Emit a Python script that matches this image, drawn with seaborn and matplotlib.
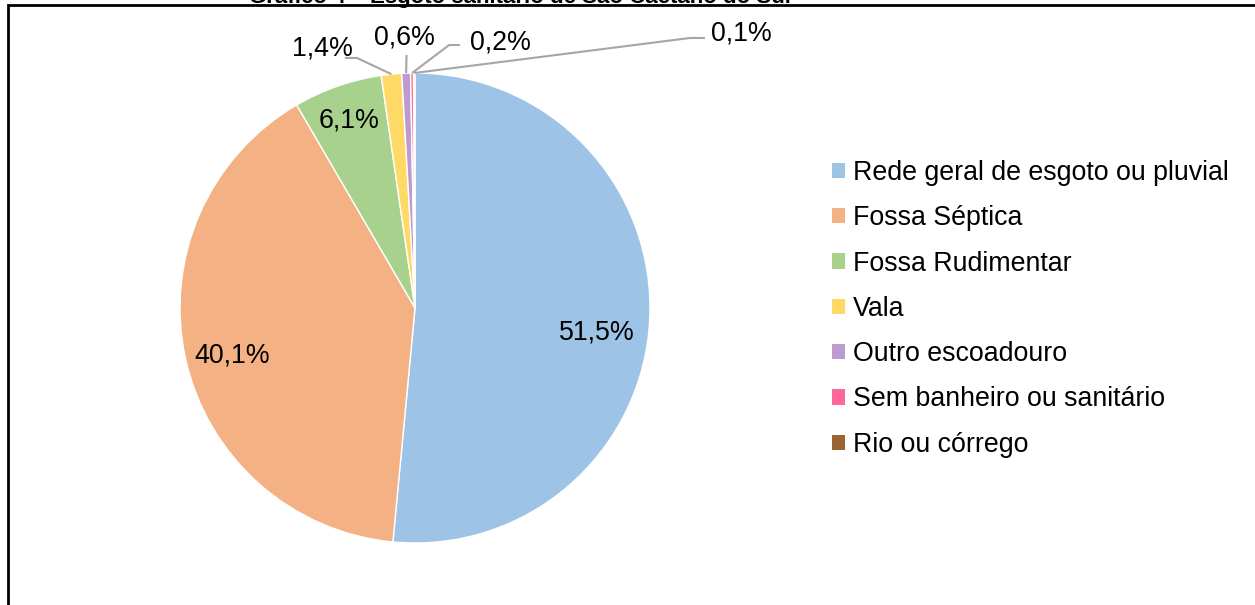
import numpy as np
import matplotlib.pyplot as plt
import matplotlib.patches as mpatches
import seaborn as sns

categorias = ['Rede geral de esgoto ou pluvial', 'Fossa Séptica', 'Fossa Rudimentar',
              'Vala', 'Outro escoadouro', 'Sem banheiro ou sanitário', 'Rio ou córrego']
percentuais = [51.5, 40.1, 6.1, 1.4, 0.6, 0.2, 0.1]
rotulos = ['51,5%', '40,1%', '6,1%', '1,4%', '0,6%', '0,2%', '0,1%']
cores = ['#9DC3E6', '#F4B183', '#A9D18E', '#FFD966', '#BE9BCF', '#FF6699', '#996633']
titulo = 'Gráfico 4 – Esgoto sanitário de São Caetano do Sul'

sns.set_theme(style='white')
plt.rcParams['font.family'] = ['Liberation Sans', 'DejaVu Sans']
plt.rcParams['text.color'] = 'black'

W, H = 1255, 605
fig = plt.figure(figsize=(W / 100, H / 100), dpi=100)

# pie centre (415, 308) px, radius 235 px
cx, cy, R = 415, 308, 235
xl, yl = 1.6, 1.25
ax = fig.add_axes([(cx - xl * R) / W, (H - cy - yl * R) / H, 2 * xl * R / W, 2 * yl * R / H])

paleta = sns.color_palette(cores)
wedges, _ = ax.pie(percentuais, colors=paleta, startangle=90, counterclock=False,
                   wedgeprops=dict(edgecolor='white', linewidth=1))
ax.set_xlim(-xl, xl)
ax.set_ylim(-yl, yl)
ax.set_aspect('auto')
ax.axis('off')

fs = 19.3

# labels inside
ax.text(0.774, -0.106, rotulos[0], fontsize=fs, ha='center', va='center')
ax.text(-0.779, -0.2, rotulos[1], fontsize=fs, ha='center', va='center')
ax.text(-0.281, 0.796, rotulos[2], fontsize=fs, ha='center', va='center')

# outside labels with leader lines: (label pos, elbow, line end near label)
fora = {
    3: ((-0.396, 1.106), (-0.247, 1.064), (-0.298, 1.064)),
    4: ((-0.047, 1.150), (-0.036, 1.077), (-0.036, 1.077)),
    5: ((0.362, 1.128), (0.145, 1.119), (0.191, 1.119)),
    6: ((1.387, 1.166), (1.170, 1.149), (1.234, 1.149)),
}
for i, (pos, cot, fim) in fora.items():
    w = wedges[i]
    ang = np.deg2rad((w.theta1 + w.theta2) / 2)
    x0, y0 = np.cos(ang), np.sin(ang)
    ax.plot([x0, cot[0], fim[0]], [y0, cot[1], fim[1]], color='#A6A6A6', lw=1.5,
            solid_capstyle='butt', clip_on=False)
    ax.text(pos[0], pos[1], rotulos[i], fontsize=fs, ha='center', va='center')

# legend
handles = [mpatches.Patch(facecolor=c, edgecolor='none') for c in cores]
fig.legend(handles, categorias, loc='upper left', bbox_to_anchor=(832 / W, 1 - 160 / H),
           frameon=False, fontsize=fs, handlelength=0.5, handleheight=0.5,
           handletextpad=0.27, labelspacing=0.72, borderpad=0, borderaxespad=0)

# border box and clipped title
fig.patches.append(mpatches.Rectangle((8 / W, -0.1), 1.2, 1 - 5 / H + 0.1, transform=fig.transFigure,
                                      fill=False, edgecolor='black', lw=2))
fig.text(520 / W, 1 - 3 / H, titulo, fontsize=16, fontweight='bold', ha='center', va='baseline')

fig.savefig('out.png', dpi=100)
